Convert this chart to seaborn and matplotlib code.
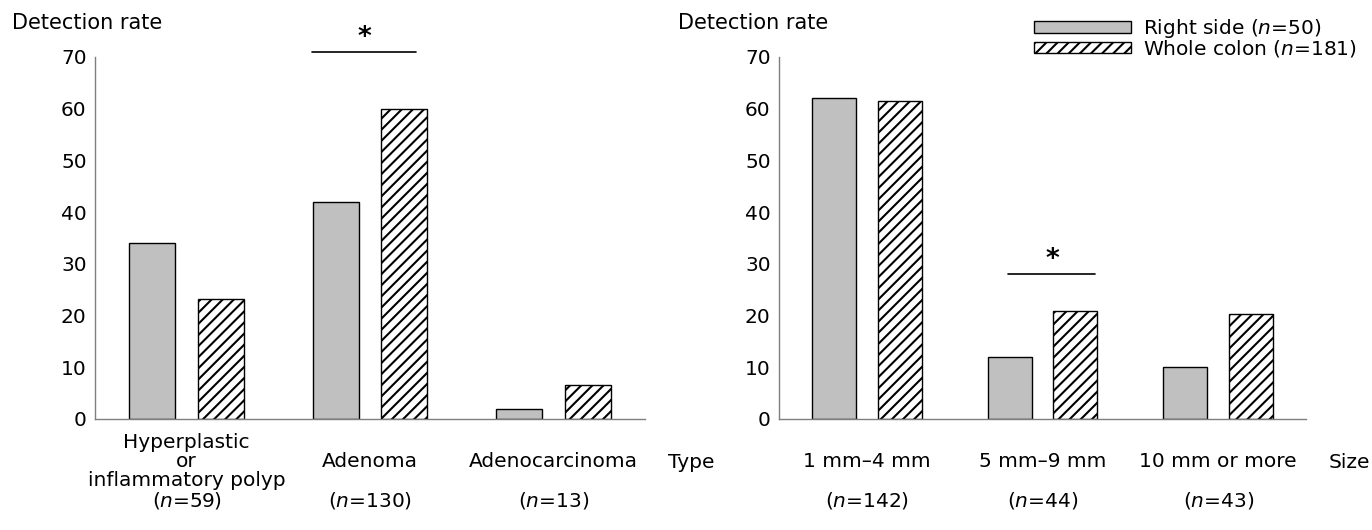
import pandas as pd
import seaborn as sns
import matplotlib.pyplot as plt
import matplotlib.patches as mpatches

# detection rate (%) per lesion type and size
groups = ['Right side', 'Whole colon']
legend_labels = [r'Right side ($\it{n}$=50)', r'Whole colon ($\it{n}$=181)']

type_cats = ['Hyperplastic or inflammatory polyp', 'Adenoma', 'Adenocarcinoma']
type_ticks = ['Hyperplastic\nor\ninflammatory polyp\n($\\it{n}$=59)',
              '\nAdenoma\n\n($\\it{n}$=130)',
              '\nAdenocarcinoma\n\n($\\it{n}$=13)']
type_right = [34, 42, 2]
type_whole = [23.2, 60, 6.6]

size_cats = ['1 mm-4 mm', '5 mm-9 mm', '10 mm or more']
size_ticks = ['\n1 mm\u20134 mm\n\n($\\it{n}$=142)',
              '\n5 mm\u20139 mm\n\n($\\it{n}$=44)',
              '\n10 mm or more\n\n($\\it{n}$=43)']
size_right = [62, 12, 10]
size_whole = [61.4, 20.9, 20.4]


def long_table(cats, right, whole):
    return pd.DataFrame({
        'category': cats * 2,
        'group': [groups[0]] * len(cats) + [groups[1]] * len(cats),
        'rate': right + whole,
    })


sns.set_style('white')
plt.rcParams['font.family'] = ['DejaVu Sans']
plt.rcParams['font.size'] = 14.5
plt.rcParams['text.color'] = 'black'
plt.rcParams['xtick.color'] = 'black'
plt.rcParams['ytick.color'] = 'black'
plt.rcParams['hatch.linewidth'] = 1.5
plt.rcParams['hatch.color'] = 'black'

fig = plt.figure(figsize=(13.72, 5.30), dpi=100)
ax1 = fig.add_axes([95 / 1372, 1 - 419 / 530, 550 / 1372, 362 / 530])
ax2 = fig.add_axes([779 / 1372, 1 - 419 / 530, 527 / 1372, 362 / 530])

palette = {'Right side': '#c0c0c0', 'Whole colon': 'white'}

for ax, cats, ticks, right, whole in [(ax1, type_cats, type_ticks, type_right, type_whole),
                                      (ax2, size_cats, size_ticks, size_right, size_whole)]:
    df = long_table(cats, right, whole)
    sns.barplot(data=df, x='category', y='rate', hue='group', palette=palette,
                width=0.75, gap=0.333, edgecolor='black', linewidth=1,
                errorbar=None, legend=False, ax=ax)
    for bar in ax.containers[1]:
        bar.set_hatch('///')
    ax.set_xlim(-0.5, 2.5)
    ax.set_ylim(0, 70)
    ax.set_yticks(range(0, 71, 10))
    ax.set_xticks(range(3))
    ax.set_xticklabels(ticks, linespacing=1.0, va='top')
    ax.set_xlabel('')
    ax.set_ylabel('')
    ax.tick_params(axis='both', length=0)
    ax.tick_params(axis='y', pad=6)
    ax.tick_params(axis='x', pad=10)
    sns.despine(ax=ax)
    for side in ['left', 'bottom']:
        ax.spines[side].set_color('#7f7f7f')
        ax.spines[side].set_linewidth(1)

# significance marks
ax1.plot([0.684, 1.251], [71, 71], color='black', lw=1.2, clip_on=False)
ax1.text(0.967, 73.6, '*', ha='center', va='center', fontsize=19, fontweight='bold')
ax2.plot([0.805, 1.30], [28, 28], color='black', lw=1.2, clip_on=False)
ax2.text(1.055, 30.7, '*', ha='center', va='center', fontsize=19, fontweight='bold')

fig.text(12 / 1372, 1 - 23 / 530, 'Detection rate', va='center', ha='left', fontsize=15)
fig.text(678 / 1372, 1 - 23 / 530, 'Detection rate', va='center', ha='left', fontsize=15)
fig.text(668 / 1372, 1 - 462 / 530, 'Type', va='center', ha='left')
fig.text(1329 / 1372, 1 - 462 / 530, 'Size', va='center', ha='left')

handles = [mpatches.Patch(facecolor='#c0c0c0', edgecolor='black', lw=1),
           mpatches.Patch(facecolor='white', edgecolor='black', lw=1, hatch='///')]
fig.legend(handles, legend_labels, loc='upper left', bbox_to_anchor=(1034 / 1372, 1 - 17 / 530),
           frameon=False, borderpad=0, borderaxespad=0, handlelength=4.8, handleheight=0.5,
           handletextpad=0.6, labelspacing=-0.1)

fig.savefig('out.png', dpi=100)
